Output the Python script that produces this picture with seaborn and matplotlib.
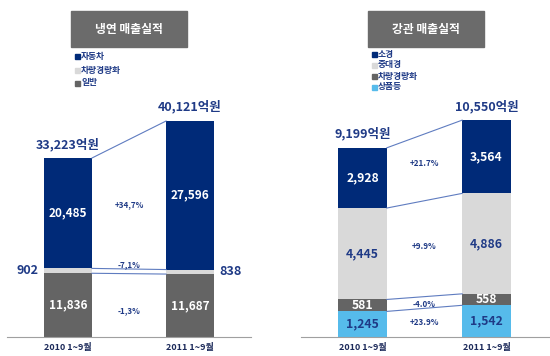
import pandas as pd
import seaborn as sns
import matplotlib.pyplot as plt
from matplotlib.patches import Rectangle

periods = ['2010 1~9월', '2011 1~9월']

# 냉연 매출실적 (아래 -> 위)
cold_names = ['일반', '차량경량화', '자동차']
cold_general = [11836, 11687]
cold_light = [902, 838]
cold_auto = [20485, 27596]
cold_totals = ['33,223억원', '40,121억원']
cold_growth = ['-1,3%', '-7,1%', '+34,7%']

# 강관 매출실적 (아래 -> 위)
pipe_names = ['상품등', '차량경량화', '중대경', '소경']
pipe_goods = [1245, 1542]
pipe_light = [581, 558]
pipe_large = [4445, 4886]
pipe_small = [2928, 3564]
pipe_totals = ['9,199억원', '10,550억원']
pipe_growth = ['+23.9%', '-4.0%', '+9.9%', '+21.7%']

NAVY = '#002a78'
LGRAY = '#d9d9d9'
DGRAY = '#646464'
SKY = '#56bbeb'
TXT = '#1f3a86'
LINE = '#5f7cc0'
W = 0.39

sns.set_style('white')
plt.rcParams['font.family'] = ['Noto Sans CJK KR', 'DejaVu Sans']

fig = plt.figure(figsize=(5.5, 3.56), dpi=100)
PX, PY = 1 / 550, 1 / 356


def panel(rect, ymax, layers, colors, vcolors, vsize, totals, growth, goffs, outside):
    ax = fig.add_axes(rect)
    bottom = [0, 0]
    for i, (vals, col, vc) in enumerate(zip(layers, colors, vcolors)):
        df = pd.DataFrame({'기간': periods, 'v': vals})
        sns.barplot(data=df, x='기간', y='v', color=col, saturation=1, width=W,
                    bottom=bottom, linewidth=0, ax=ax)
        mids = [b + v / 2 for b, v in zip(bottom, vals)]
        for j in range(2):
            if i in outside:
                side = -1 if j == 0 else 1
                ax.annotate(f'{vals[j]:,}', xy=(j + side * W / 2, mids[j]),
                            xytext=(side * 6, 0), textcoords='offset pixels',
                            ha='right' if j == 0 else 'left', va='center',
                            color=TXT, fontsize=9, fontweight='bold')
            else:
                ax.text(j, mids[j], f'{vals[j]:,}', ha='center', va='center',
                        color=vc, fontsize=vsize, fontweight='bold')
        bottom = [b + v for b, v in zip(bottom, vals)]
        ax.plot([W / 2, 1 - W / 2], bottom, color=LINE, lw=0.8)
        ax.annotate(growth[i], xy=(0.5, sum(mids) / 2), xytext=(0, goffs[i]),
                    textcoords='offset pixels', ha='center', va='center',
                    color=TXT, fontsize=5.8, fontweight='bold')
    for j in range(2):
        ax.annotate(totals[j], xy=(j, bottom[j]), xytext=(0, 14),
                    textcoords='offset pixels', ha='center', va='center',
                    color=TXT, fontsize=9, fontweight='bold')
    ax.set_xlim(-0.5, 1.5)
    ax.set_ylim(0, ymax)
    ax.set_xlabel('')
    ax.set_ylabel('')
    ax.set_yticks([])
    sns.despine(ax=ax, left=True)
    ax.spines['bottom'].set_color('#a0a0a0')
    ax.spines['bottom'].set_linewidth(0.8)
    ax.tick_params(axis='x', which='major', length=0, pad=4, labelsize=6.5,
                   labelcolor='#1c2a5a')
    for t in ax.get_xticklabels():
        t.set_fontweight('bold')
    ax.set_xticks([-0.5, 0.5, 1.5], minor=True)
    ax.tick_params(axis='x', which='minor', length=3, color='#a0a0a0', width=0.8)
    return ax


panel([7 * PX, 19 * PY, 244 * PX, 237 * PY], 44010,
      [cold_general, cold_light, cold_auto], [DGRAY, LGRAY, NAVY],
      ['white', TXT, 'white'], 8.5, cold_totals, cold_growth, [-5, 7, 0], [1])

panel([300.5 * PX, 19 * PY, 248 * PX, 237 * PY], 11527,
      [pipe_goods, pipe_light, pipe_large, pipe_small], [SKY, DGRAY, LGRAY, NAVY],
      [TXT, 'white', TXT, 'white'], 8.8, pipe_totals, pipe_growth, [0, -2, 2, 4], [])

# 제목 상자
for x0, title in [(71, '냉연 매출실적'), (368, '강관 매출실적')]:
    fig.patches.append(Rectangle((x0 * PX, 1 - 47 * PY), 116 * PX, 36 * PY,
                                 transform=fig.transFigure, color='#6b6b6b'))
    fig.text((x0 + 58) * PX, 1 - 29 * PY, title, ha='center', va='center',
             color='white', fontsize=8.5, fontweight='bold')

# 범례
for x0, ys, names, colors in [
        (75, [56, 70, 83], cold_names[::-1], [NAVY, LGRAY, DGRAY]),
        (372, [54, 65, 76, 87], pipe_names[::-1], [NAVY, LGRAY, DGRAY, SKY])]:
    for y, name, col in zip(ys, names, colors):
        fig.patches.append(Rectangle((x0 * PX, 1 - (y + 2.5) * PY), 5 * PX, 5 * PY,
                                     transform=fig.transFigure, color=col))
        fig.text((x0 + 6) * PX, 1 - y * PY, name, ha='left', va='center',
                 color=TXT, fontsize=6.3, fontweight='bold')

fig.savefig('out.png', dpi=100)
